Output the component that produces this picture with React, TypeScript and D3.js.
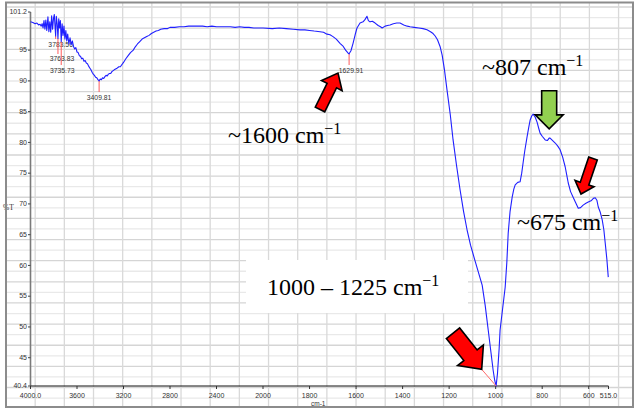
import React from "react";
import * as d3 from "d3";

// ---- Spectrum data (wavenumber cm-1, %T) ----
const wavenumbers = [
  4000, 3980, 3960, 3945, 3930, 3918, 3908, 3900, 3892, 3884, 3876, 3868, 3860, 3850, 3842, 3834, 3826, 3818,
  3810, 3802, 3795, 3789, 3783.56, 3778, 3770, 3763.83, 3757, 3750, 3743, 3735.73, 3728, 3720, 3712, 3704,
  3696, 3688, 3680, 3670, 3660, 3650, 3640, 3630, 3620, 3610, 3600, 3590, 3580, 3570, 3560, 3550, 3540, 3530,
  3520, 3510, 3500, 3490, 3480, 3470, 3460, 3450, 3440, 3430, 3420, 3409.81, 3400, 3390, 3380, 3370, 3360,
  3350, 3340, 3330, 3320, 3310, 3300, 3280, 3260, 3240, 3227, 3200, 3180, 3160, 3140, 3116, 3100, 3080, 3060,
  3040, 3020, 3000, 2980, 2960, 2940, 2920, 2900, 2880, 2850, 2820, 2800, 2760, 2720, 2680, 2640, 2600, 2560,
  2520, 2480, 2440, 2400, 2360, 2320, 2280, 2240, 2200, 2160, 2120, 2080, 2040, 2000, 1960, 1930, 1900, 1870,
  1841, 1820, 1800, 1780, 1755, 1740, 1725, 1712, 1699, 1685, 1669, 1655, 1645, 1634, 1629.91, 1622, 1613,
  1604, 1596, 1583, 1570, 1561, 1553, 1547, 1540, 1530, 1518, 1505, 1495, 1488, 1475, 1465, 1454, 1440, 1425,
  1411, 1395, 1380, 1368, 1350, 1330, 1312, 1295, 1280, 1269, 1260, 1250, 1239, 1230, 1220, 1209, 1195, 1183,
  1168, 1153, 1138, 1123, 1108, 1092, 1075, 1058, 1045, 1032, 1020, 1011, 1004, 998, 992, 985, 981, 970, 959,
  952, 946, 938, 929, 922, 916, 905, 895, 888, 882, 875, 865, 858, 852, 845, 839, 830, 822, 815, 809, 800, 787,
  778, 770, 766, 755, 744, 733, 723, 712, 701, 695, 688, 678, 667, 656, 645, 635, 624, 612, 602, 590, 580, 572,
  565, 559, 550, 542, 535, 529, 522, 516,
];
const transmittance = [
  99.6, 99.5, 99.3, 99.4, 99.1, 99.2, 98.9, 99.3, 98.6, 99.8, 98.4, 99.9, 98.2, 100.4, 98.0, 99.6, 97.9, 100.6,
  98.4, 100.2, 100.8, 98.8, 97.3, 100.5, 99.2, 96.9, 100.1, 98.6, 99.8, 96.4, 99.3, 97.4, 98.9, 96.8,
  98.2, 96.5, 97.6, 96.0, 97.0, 95.9, 96.5, 95.6, 95.2, 95.4, 94.7, 94.6, 94.1, 94.0, 93.6, 93.7, 93.2, 93.3,
  92.9, 92.8, 92.4, 92.1, 91.8, 91.4, 91.1, 90.9, 90.6, 90.5, 90.2, 90.0, 90.3, 90.2, 90.5, 90.4, 90.7,
  90.9, 90.8, 91.1, 91.2, 91.2, 91.5, 91.8, 92.0, 92.3, 92.3, 93.0, 93.6, 94.1, 94.6, 95.0, 95.5, 96.0, 96.4,
  96.8, 97.0, 97.2, 97.4, 97.7, 97.9, 98.1, 98.2, 98.4, 98.5, 98.5, 98.7, 98.7, 98.8, 98.8, 98.9, 98.9, 98.9,
  98.9, 98.8, 98.9, 98.8, 98.8, 98.8, 98.8, 98.7, 98.8, 98.7, 98.7, 98.6, 98.6, 98.6, 98.5, 98.6, 98.5, 98.4,
  98.3, 98.3, 98.2, 98.1, 98.0, 97.9, 97.6, 97.5, 97.2, 96.8, 96.1, 95.6, 95.0, 94.5, 94.4, 94.9, 96.1,
  97.5, 98.6, 99.4, 99.6, 100.0, 100.5, 99.8, 99.6, 99.7, 99.4, 99.0, 98.8, 98.6, 98.9, 99.0, 99.1, 99.3, 99.4,
  99.4, 99.1, 98.9, 98.8, 98.7, 98.6, 98.5, 98.3, 98.0, 97.7, 97.3, 96.7, 95.6, 94.2, 91.8, 88.5, 84.5, 80.4,
  76.2, 72.3, 68.8, 65.8, 63.3, 61.2, 59.0, 56.8, 53.5, 49.5, 45.8, 43.0, 41.3, 40.4, 42.5, 46.5, 49.5, 53.0, 56.5,
  60.5, 65.3, 68.8, 71.1, 72.4, 73.1, 73.5, 73.6, 75.0, 76.7, 78.6, 80.9, 82.4, 83.6, 84.3, 84.6, 84.1, 83.3, 82.3, 81.5, 81.0, 80.4,
  80.3, 80.7, 80.7, 80.3, 79.9, 79.4, 78.8, 77.6, 76.0, 74.8, 73.4, 72.0, 71.1, 70.2, 69.3, 69.4, 69.8, 70.1, 70.3, 70.5, 70.9, 71.0,
  70.6, 69.5, 68.6, 67.4, 65.8, 63.6, 61.0, 58.1,
];

// ---- Axes ----
const xTicks = [4000, 3600, 3200, 2800, 2400, 2000, 1800, 1600, 1400, 1200, 1000, 800, 600, 515];
const xTickLabels = ["4000.0", "3600", "3200", "2800", "2400", "2000", "1800", "1600", "1400", "1200", "1000", "800", "600", "515.0"];
const yTicks = [101.2, 95, 90, 85, 80, 75, 70, 65, 60, 55, 50, 45, 40.4];
const yTickLabels = ["101.2", "95", "90", "85", "80", "75", "70", "65", "60", "55", "50", "45", "40.4"];

// ---- Peak picks ----
const peakWavenumbers = [3783.56, 3763.83, 3735.73, 3409.81, 1629.91];
const peakValues = [97.3, 96.9, 96.4, 90.0, 94.4];
const peakLabels = ["3783.56", "3763.83", "3735.73", "3409.81", "1629.91"];
// layout of pick labels (px)
const peakLineEndY = [39, 54, 65, 92, 65];
const peakLabelY = [46.5, 61, 72.5, 99.5, 72.5];
const peakLabelDx = [5, 4, 1, 0, 2];

// ---- Annotations (data coordinates) ----
const annotationTexts = ["~1600 cm", "~807 cm", "~675 cm", "1000 \u2013 1225 cm"];
const annotationW = [2301, 1058.7, 908.3, 1982.8];
const annotationV = [79.9, 90.96, 65.76, 55.19];

const arrowTailW = [1755, 770, 581.6, 1183.4];
const arrowTailV = [85.35, 88.4, 77.38, 48.97];
const arrowTipW = [1677.6, 770, 633.2, 1060];
const arrowTipV = [91.28, 82.2, 71.61, 43.11];
const arrowFill = ["#ff0000", "#92d050", "#ff0000", "#ff0000"];
const arrowShaft = [10.5, 15, 9, 17];
const arrowHead = [23, 28, 20, 33];
const arrowHeadLen = [14, 14, 11, 18];

const boxW = [2146.2, 1118.9];
const boxV = [60.88, 52.27];

const W = 635;
const H = 409;

function arrowPoints(tx: number, ty: number, px: number, py: number, s: number, h: number, L: number) {
  const dx = px - tx;
  const dy = py - ty;
  const len = Math.hypot(dx, dy);
  const ux = dx / len;
  const uy = dy / len;
  const nx = -uy;
  const ny = ux;
  const bx = px - ux * L;
  const by = py - uy * L;
  const pts = [
    [tx + (nx * s) / 2, ty + (ny * s) / 2],
    [bx + (nx * s) / 2, by + (ny * s) / 2],
    [bx + (nx * h) / 2, by + (ny * h) / 2],
    [px, py],
    [bx - (nx * h) / 2, by - (ny * h) / 2],
    [bx - (nx * s) / 2, by - (ny * s) / 2],
    [tx - (nx * s) / 2, ty - (ny * s) / 2],
  ];
  return pts.map((p) => p.join(",")).join(" ");
}

export default function App() {
  const x = d3.scaleLinear().domain([4000, 2000, 515]).range([30.5, 263, 608.5]);
  const y = d3.scaleLinear().domain([40.4, 101.2]).range([386, 12]);

  const data = wavenumbers.map((w, i) => [w, transmittance[i]] as [number, number]);
  const line = d3
    .line<[number, number]>()
    .x((d) => x(d[0]))
    .y((d) => y(d[1]));

  const vGrid = d3.range(1, 22).map((k) => 6 + k * 29.17);
  const hGrid = d3.range(0, 38).map((k) => 7 + k * 10.57).filter((v) => v < 406);

  const labelFont = "'Liberation Sans', Arial, sans-serif";
  const serif = "'Liberation Serif', 'Times New Roman', serif";

  return (
    <svg
      width={W}
      height={H}
      style={{ position: "absolute", left: 0, top: 0, background: "#fff" }}
    >
      <rect x={0} y={0} width={W} height={H} fill="#fff" />
      {/* background sheet grid */}
      {hGrid.map((gy, i) => (
        <line key={"h" + i} x1={6} x2={633} y1={gy} y2={gy} stroke={i % 2 === 0 ? "#d5d5d5" : "#e9e9e9"} strokeWidth={1.3} />
      ))}
      {vGrid.map((gx, i) => (
        <line key={"v" + i} x1={gx} x2={gx} y1={3} y2={407} stroke="#d9d9d9" strokeWidth={1.3} />
      ))}

      {/* white label box */}
      <rect
        x={x(boxW[0])}
        y={y(boxV[0])}
        width={x(boxW[1]) - x(boxW[0])}
        height={y(boxV[1]) - y(boxV[0])}
        fill="#fff"
      />

      {/* axes */}
      <line x1={30.5} x2={30.5} y1={y(101.2)} y2={y(40.4)} stroke="#7a7a7a" strokeWidth={1.6} />
      <line x1={x(4000)} x2={x(515)} y1={386} y2={386} stroke="#111" strokeWidth={1} />
      {yTicks.map((t, i) => (
        <g key={"yt" + i}>
          <line x1={28} x2={30.5} y1={y(t)} y2={y(t)} stroke="#444" strokeWidth={1} />
          <text x={27} y={y(t) + 2.3} textAnchor="end" fontSize={7} fontFamily={labelFont} fill="#333">
            {yTickLabels[i]}
          </text>
        </g>
      ))}
      {xTicks.map((t, i) => (
        <g key={"xt" + i}>
          <line x1={x(t)} x2={x(t)} y1={386} y2={389} stroke="#333" strokeWidth={1} />
          <text x={x(t)} y={398} textAnchor="middle" fontSize={7} fontFamily={labelFont} fill="#333">
            {xTickLabels[i]}
          </text>
        </g>
      ))}
      <text x={3} y={210} fontSize={7.5} fontFamily={serif} fill="#333">%T</text>
      <text x={311} y={405.5} fontSize={6.5} fontFamily={labelFont} fill="#333">cm-1</text>

      {/* peak pick markers */}
      {peakWavenumbers.map((w, i) => (
        <g key={"pk" + i}>
          <line x1={x(w)} x2={x(w)} y1={y(peakValues[i])} y2={peakLineEndY[i]} stroke="#ff5a5a" strokeWidth={1} />
          <text x={x(w) + peakLabelDx[i]} y={peakLabelY[i]} textAnchor="middle" fontSize={6.8} fontFamily={labelFont} fill="#333">
            {peakLabels[i]}
          </text>
        </g>
      ))}

      {/* spectrum */}
      <path d={line(data) || ""} fill="none" stroke="#1f1fff" strokeWidth={1.1} strokeLinejoin="round" />

      {/* thin leader line for main band */}
      <line x1={x(arrowTipW[3])} y1={y(arrowTipV[3])} x2={x(998)} y2={y(40.4)} stroke="#ff6a6a" strokeWidth={1} />

      {/* arrows */}
      {arrowTailW.map((w, i) => (
        <polygon
          key={"ar" + i}
          points={arrowPoints(x(w), y(arrowTailV[i]), x(arrowTipW[i]), y(arrowTipV[i]), arrowShaft[i], arrowHead[i], arrowHeadLen[i])}
          fill={arrowFill[i]}
          stroke="#000"
          strokeWidth={1.6}
          strokeLinejoin="miter"
        />
      ))}

      {/* annotation texts */}
      {annotationTexts.map((t, i) => (
        <text key={"an" + i} x={x(annotationW[i])} y={y(annotationV[i])} fontSize={24} fontFamily={serif} fill="#000">
          {t}
          <tspan dy={-9} fontSize={16}>{"\u22121"}</tspan>
        </text>
      ))}

      {/* outer frame */}
      <rect x={6} y={2.5} width={627} height={404.5} fill="none" stroke="#8c8c8c" strokeWidth={2} />
    </svg>
  );
}
